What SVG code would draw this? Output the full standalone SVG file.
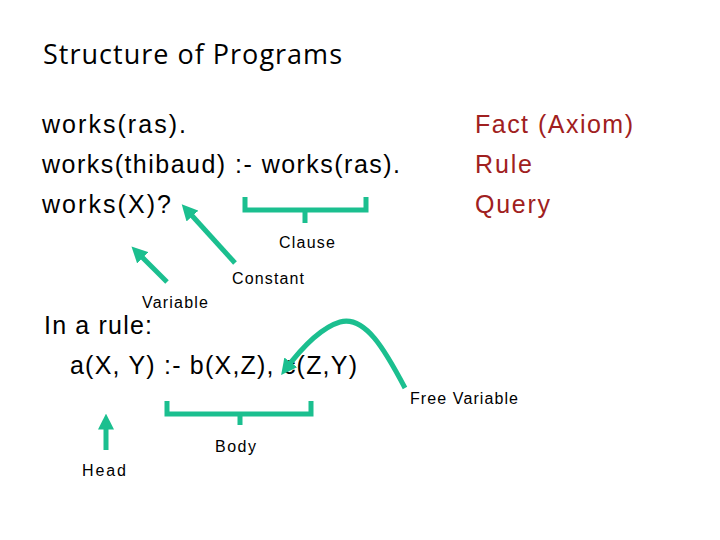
<svg xmlns="http://www.w3.org/2000/svg" width="720" height="540" viewBox="0 0 720 540">
<defs>
<marker id="ah" viewBox="0 0 10 10" refX="6" refY="5" markerWidth="3.2" markerHeight="3.2" orient="auto"><path d="M0,0 L10,5 L0,10 z" fill="#1bbf8f"/></marker>
<style>
.t{font-family:"Liberation Sans",Arial,sans-serif;font-size:25px;fill:#000}
.r{font-family:"Liberation Sans",Arial,sans-serif;font-size:25px;fill:#a02020}
.s{font-family:"Liberation Sans",Arial,sans-serif;font-size:16px;fill:#000}
.c{stroke:#1bbf8f;stroke-width:5;fill:none}
</style>
</defs>
<rect width="720" height="540" fill="#fff"/>
<g id="title"><text x="43" y="64" textLength="299" style="font-family:'Open Sans',sans-serif;font-size:27px" fill="#000">Structure of Programs</text></g>
<g id="program">
<text class="t" x="42" y="133" textLength="144">works(ras).</text>
<text class="t" x="42" y="173" textLength="358">works(thibaud) :- works(ras).</text>
<text class="t" x="42" y="213" textLength="129">works(X)?</text>
</g>
<g id="kinds">
<text class="r" x="475" y="133" textLength="158">Fact (Axiom)</text>
<text class="r" x="475" y="173" textLength="57">Rule</text>
<text class="r" x="475" y="213" textLength="75">Query</text>
</g>
<g id="rule">
<text class="t" x="44" y="334" textLength="108">In a rule:</text>
<text class="t" x="70" y="374" textLength="287">a(X, Y) :- b(X,Z), c(Z,Y)</text>
</g>
<g id="labels">
<text class="s" x="279" y="248" textLength="56">Clause</text>
<text class="s" x="232" y="284" textLength="72">Constant</text>
<text class="s" x="142" y="308" textLength="66">Variable</text>
<text class="s" x="410" y="404" textLength="108">Free Variable</text>
<text class="s" x="215" y="452" textLength="41">Body</text>
<text class="s" x="82" y="476" textLength="44">Head</text>
</g>
<g id="connectors">
<path class="c" d="M245,197 V210 H366 V197 M305,210 V223"/>
<path class="c" d="M167,401 V414 H311 V401 M240,414 V425"/>
<line class="c" x1="235" y1="263" x2="186" y2="209" marker-end="url(#ah)"/>
<line class="c" x1="167" y1="282" x2="136" y2="251" marker-end="url(#ah)"/>
<line class="c" x1="106" y1="450" x2="106" y2="420" marker-end="url(#ah)"/>
<path class="c" d="M405,388 C385,350 365,315 340,322 C320,328 300,350 285,370" marker-end="url(#ah)"/>
</g>
</svg>
